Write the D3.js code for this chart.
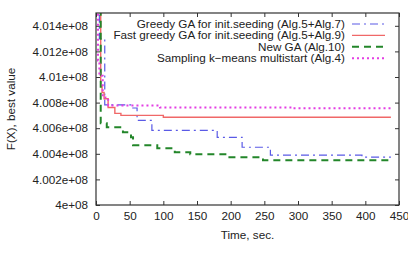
<!DOCTYPE html>
<html>
<head>
<meta charset="utf-8">
<script src="https://cdn.jsdelivr.net/npm/d3@7"></script>
<style>
  body { margin: 0; background: #fff; }
  svg { font-family: "Liberation Sans", Arial, sans-serif; }
</style>
</head>
<body>
<svg id="chart" width="408" height="255"></svg>
<script>
// step points [time, F(X)]
const greedyGA = [[0, 4.0160e8], [5, 4.0130e8], [13, 4.00782e8], [53, 4.00758e8], [61, 4.00661e8],
  [83, 4.00583e8], [180, 4.00529e8], [217, 4.00451e8], [259, 4.00389e8], [395, 4.00374e8], [438, 4.00374e8]];
const fastGreedyGA = [[6, 4.0160e8], [7, 4.0093e8], [9, 4.00879e8], [12, 4.0083e8], [18, 4.00762e8],
  [28, 4.00716e8], [37, 4.00700e8], [100, 4.00685e8], [438, 4.00685e8]];
const newGA = [[2, 4.0160e8], [7, 4.00638e8], [16, 4.00607e8], [40, 4.00568e8], [52, 4.00529e8],
  [55, 4.00467e8], [91, 4.00444e8], [117, 4.00412e8], [140, 4.00397e8], [195, 4.00374e8],
  [248, 4.00350e8], [438, 4.00350e8]];
const samplingKm = [[1, 4.0160e8], [3, 4.01128e8], [5, 4.0101e8], [10, 4.0084e8], [18, 4.00778e8],
  [95, 4.00762e8], [292, 4.00755e8], [438, 4.00755e8]];

const xTicks = [0, 50, 100, 150, 200, 250, 300, 350, 400, 450];
const yTicks = [4e8, 4.002e8, 4.004e8, 4.006e8, 4.008e8, 4.01e8, 4.012e8, 4.014e8];
const yTickLabels = ["4e+08", "4.002e+08", "4.004e+08", "4.006e+08", "4.008e+08", "4.01e+08", "4.012e+08", "4.014e+08"];

const series = [
  { name: "Greedy GA for init.seeding (Alg.5+Alg.7)", data: greedyGA, color: "#5a5ae6", width: 1.2, dash: "8,4,2,4" },
  { name: "Fast greedy GA for init.seeding (Alg.5+Alg.9)", data: fastGreedyGA, color: "#f06868", width: 1.4, dash: null },
  { name: "New GA (Alg.10)", data: newGA, color: "#23862a", width: 2, dash: "7,5" },
  { name: "Sampling k\u2212means multistart (Alg.4)", data: samplingKm, color: "#e33ee3", width: 2, dash: "2,3" }
];

const svg = d3.select("#chart");
const margin = { left: 96, right: 9, top: 13, bottom: 50 };
const W = 408, H = 255;
const fs = "11.7px";

const x = d3.scaleLinear().domain([0, 450]).range([margin.left, W - margin.right]);
const y = d3.scaleLinear().domain([4e8, 4.015e8]).range([H - margin.bottom, margin.top]);

svg.append("clipPath").attr("id", "clip")
  .append("rect")
  .attr("x", margin.left).attr("y", margin.top)
  .attr("width", W - margin.left - margin.right)
  .attr("height", H - margin.top - margin.bottom);

// axes with inward ticks, mirrored
const bottomAxis = d3.axisBottom(x).tickValues(xTicks).tickSize(-4).tickPadding(7).tickFormat(d3.format("d"));
const topAxis = d3.axisTop(x).tickValues(xTicks).tickSize(-4).tickFormat("");
const leftAxis = d3.axisLeft(y).tickValues(yTicks).tickSize(-4).tickPadding(8)
  .tickFormat((d, i) => yTickLabels[i]);
const rightAxis = d3.axisRight(y).tickValues(yTicks).tickSize(-4).tickFormat("");

const styleAxis = g => {
  g.select(".domain").remove();
  g.selectAll("line").attr("stroke", "#333");
  g.selectAll("text").attr("font-size", fs).attr("fill", "#222")
    .attr("font-family", "Liberation Sans, Arial, sans-serif");
};

svg.append("g").attr("transform", `translate(0,${H - margin.bottom})`).call(bottomAxis).call(styleAxis);
svg.append("g").attr("transform", `translate(0,${margin.top})`).call(topAxis).call(styleAxis);
svg.append("g").attr("transform", `translate(${margin.left},0)`).call(leftAxis).call(styleAxis);
svg.append("g").attr("transform", `translate(${W - margin.right},0)`).call(rightAxis).call(styleAxis);

// lines
const line = d3.line().x(d => x(d[0])).y(d => y(d[1])).curve(d3.curveStepAfter);
const plot = svg.append("g").attr("clip-path", "url(#clip)");
series.forEach(s => {
  plot.append("path").datum(s.data)
    .attr("d", line)
    .attr("fill", "none")
    .attr("stroke", s.color)
    .attr("stroke-width", s.width)
    .attr("stroke-dasharray", s.dash);
});

// border
svg.append("rect")
  .attr("x", margin.left).attr("y", margin.top)
  .attr("width", W - margin.left - margin.right)
  .attr("height", H - margin.top - margin.bottom)
  .attr("fill", "none").attr("stroke", "#333").attr("stroke-width", 1.2);

// legend
const legend = svg.append("g");
series.forEach((s, i) => {
  const ly = 24 + i * 11.4;
  legend.append("text")
    .attr("x", 345).attr("y", ly)
    .attr("dy", "0.35em")
    .attr("text-anchor", "end")
    .attr("font-size", fs).attr("fill", "#222")
    .text(s.name);
  legend.append("line")
    .attr("x1", 352).attr("x2", 385).attr("y1", ly).attr("y2", ly)
    .attr("stroke", s.color).attr("stroke-width", s.width)
    .attr("stroke-dasharray", s.dash);
});

// axis titles
svg.append("text")
  .attr("x", x(225)).attr("y", 235).attr("dy", "0.35em")
  .attr("text-anchor", "middle").attr("font-size", fs).attr("fill", "#222")
  .text("Time, sec.");
svg.append("text")
  .attr("transform", `translate(11,${(margin.top + H - margin.bottom) / 2}) rotate(-90)`)
  .attr("dy", "0.35em")
  .attr("text-anchor", "middle").attr("font-size", fs).attr("fill", "#222")
  .text("F(X), best value");
</script>
</body>
</html>
